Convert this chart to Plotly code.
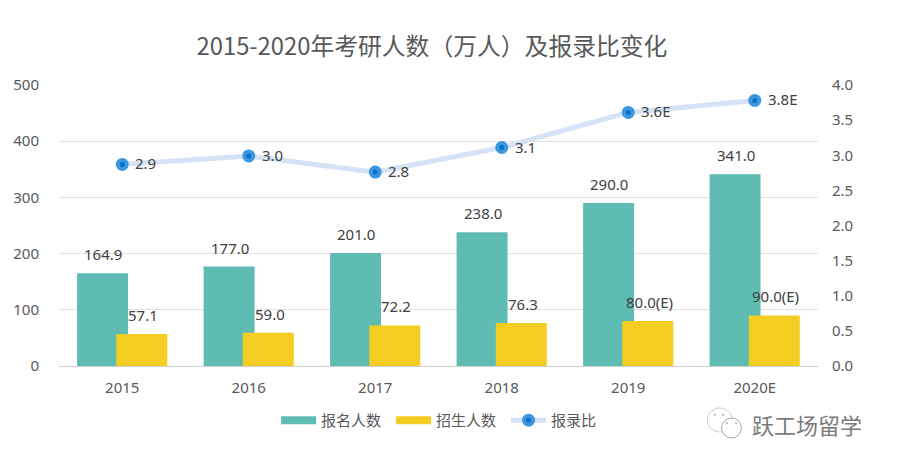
import plotly.graph_objects as go

FONT = "Noto Sans CJK SC, Noto Sans, sans-serif"
NUM_FONT = "Noto Sans, Noto Sans CJK SC, sans-serif"

years = ["2015", "2016", "2017", "2018", "2019", "2020E"]
applicants = [164.9, 177.0, 201.0, 238.0, 290.0, 341.0]
admitted = [57.1, 59.0, 72.2, 76.3, 80.0, 90.0]
ratio = [2.87, 2.99, 2.76, 3.11, 3.61, 3.78]

applicant_labels = ["164.9", "177.0", "201.0", "238.0", "290.0", "341.0"]
admitted_labels = ["57.1", "59.0", "72.2", "76.3", "80.0(E)", "90.0(E)"]
ratio_labels = ["2.9", "3.0", "2.8", "3.1", "3.6E", "3.8E"]

TEAL = "#5FBCB3"
YELLOW = "#F3CD22"
LINE = "#D6E2F5"
DOT = "#3C96E0"
DOT_CORE = "#0B6FC4"
GRID = "#E2E2E2"

fig = go.Figure()

fig.add_trace(go.Bar(x=years, y=applicants, width=0.403, offset=-0.357,
                     marker=dict(color=TEAL, line=dict(width=0)), showlegend=False))
fig.add_trace(go.Bar(x=years, y=admitted, width=0.403, offset=-0.047,
                     marker=dict(color=YELLOW, line=dict(width=0)), showlegend=False))
fig.add_trace(go.Scatter(x=years, y=ratio, yaxis="y2", mode="lines+markers", showlegend=False,
                         line=dict(color=LINE, width=5),
                         marker=dict(size=9, color=DOT_CORE, line=dict(color=DOT, width=4))))

# legend only, bars get a wide flat swatch this way
fig.add_trace(go.Scatter(x=years[:1], y=[None], mode="lines", name="报名人数", line=dict(color=TEAL, width=8)))
fig.add_trace(go.Scatter(x=years[:1], y=[None], mode="lines", name="招生人数", line=dict(color=YELLOW, width=8)))
fig.add_trace(go.Scatter(x=years[:1], y=[None], mode="lines+markers", name="报录比",
                         line=dict(color=LINE, width=5),
                         marker=dict(size=9, color=DOT_CORE, line=dict(color=DOT, width=4))))

# x is the category index: a string like "2015" gets read as a position on the axis
for i, year in enumerate(years):
    fig.add_annotation(x=i, y=applicants[i], text=applicant_labels[i], showarrow=False,
                       xshift=-19, yshift=19, font=dict(family=NUM_FONT, size=15, color="#404040"))
    fig.add_annotation(x=i, y=admitted[i], text=admitted_labels[i], showarrow=False,
                       xshift=21, yshift=19, font=dict(family=NUM_FONT, size=15, color="#404040"))
    fig.add_annotation(x=i, y=ratio[i], yref="y2", text=ratio_labels[i], showarrow=False,
                       xanchor="left", xshift=11, yshift=1, font=dict(family=NUM_FONT, size=15, color="#404040"))

# watermark
fig.add_annotation(xref="paper", yref="paper", x=0.9104, y=-0.206, xanchor="left", yanchor="middle",
                   text="跃工场留学", showarrow=False, font=dict(family=FONT, size=22, color="#7A7A7A"))
fig.add_shape(type="circle", xref="x domain", yref="y domain", x0=0.854, x1=0.887, y0=-0.235, y1=-0.149,
              line=dict(color="#CFCFCF", width=1), fillcolor="white", layer="above")
fig.add_shape(type="circle", xref="x domain", yref="y domain", x0=0.873, x1=0.899, y0=-0.256, y1=-0.185,
              line=dict(color="#A6A6A6", width=1), fillcolor="white", layer="above")
for ex, ey in [(0.864, -0.174), (0.875, -0.174), (0.880, -0.203), (0.892, -0.203)]:
    fig.add_shape(type="circle", xref="x domain", yref="y domain", x0=ex - 0.0013, x1=ex + 0.0013,
                  y0=ey - 0.0036, y1=ey + 0.0036, line=dict(width=0), fillcolor="#B0B0B0", layer="above")

fig.update_layout(
    width=899, height=444,
    margin=dict(l=51, r=89, t=77, b=86),
    paper_bgcolor="white", plot_bgcolor="white",
    barmode="overlay",
    title=dict(text="2015-2020年考研人数（万人）及报录比变化", x=0.4716, xanchor="center", y=0.912, yanchor="middle",
               font=dict(family=FONT, size=23.8, color="#595959")),
    xaxis=dict(type="category", categoryorder="array", categoryarray=years, range=[-0.5, 5.5], automargin=False,
               showgrid=False, ticks="", showline=True, linecolor="#D0D0D0", linewidth=1, ticklabelstandoff=8,
               tickfont=dict(family=NUM_FONT, size=15, color="#595959")),
    yaxis=dict(range=[0, 500], dtick=100, gridcolor=GRID, gridwidth=1, zeroline=False, ticks="", ticklabelstandoff=19,
               automargin=False, tickfont=dict(family=NUM_FONT, size=15, color="#595959")),
    yaxis2=dict(range=[0, 4], dtick=0.5, overlaying="y", side="right", showgrid=False, zeroline=False, ticks="",
                automargin=False, ticklabelstandoff=13, tickformat=".1f",
                tickfont=dict(family=NUM_FONT, size=15, color="#595959")),
    legend=dict(orientation="h", x=0.286, xanchor="left", y=-0.135, yanchor="top", itemwidth=35,
                entrywidth=65, entrywidthmode="pixels",
                font=dict(family=FONT, size=15, color="#595959"), bgcolor="rgba(0,0,0,0)"),
)

fig.write_html("out.html")
